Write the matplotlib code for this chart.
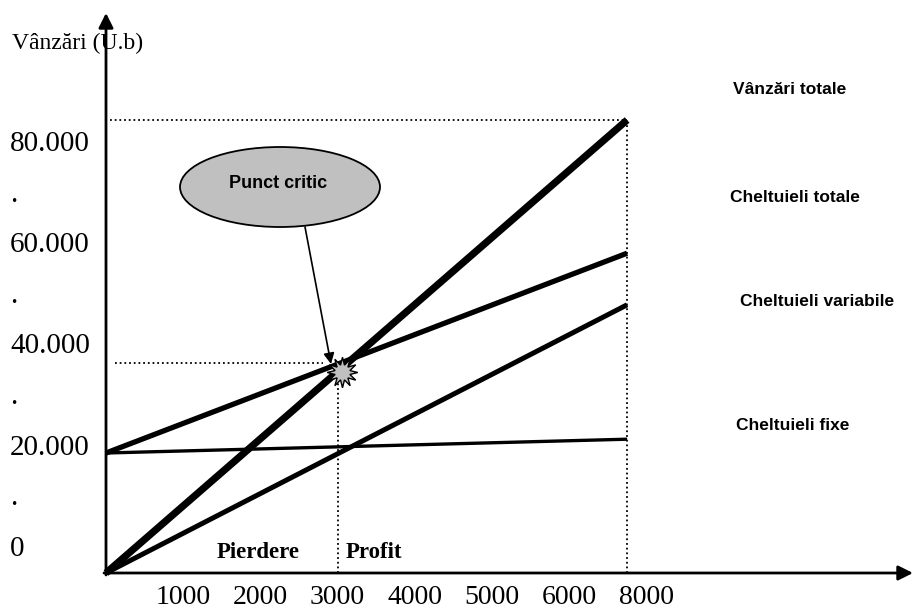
import matplotlib
matplotlib.use("Agg")
import matplotlib.pyplot as plt
from matplotlib import font_manager
from matplotlib.patches import Ellipse

# break-even chart (schematic values)
x_end = 6750
x_be = 3000
sales = [0, 75500]
total_costs = [20000, 53300]
variable_costs = [0, 44700]
fixed_costs = [20000, 22300]
be_value = 35000

x_ticks = [1000, 2000, 3000, 4000, 5000, 6000, 7000]
x_labels = ["1000", "2000", "3000", "4000", "5000", "6000", "8000"]
y_labels = ["80.000", ".", "60.000", ".", "40.000", ".", "20.000", ".", "0"]
line_names = ["Vânzări totale", "Cheltuieli totale", "Cheltuieli variabile", "Cheltuieli fixe"]

W, H = 914, 612
X0, Y0 = 106, 573      # origin in pixels
SX, SY = 0.0772, 0.006  # pixels per unit

names = {f.name for f in font_manager.fontManager.ttflist}
if "Liberation Sans Narrow" in names:
    sans, sans_size = "Liberation Sans Narrow", 14.5
else:
    sans, sans_size = "Liberation Sans", 12.5
serif = "Liberation Serif"


def px(x, y):
    # pixel position -> data units
    return (x - X0) / SX, (Y0 - y) / SY


fig = plt.figure(figsize=(W / 100, H / 100), dpi=100)
ax = fig.add_axes([0, 0, 1, 1])
ax.set_xlim(px(0, 0)[0], px(W, 0)[0])
ax.set_ylim(px(0, H)[1], px(0, 0)[1])
ax.axis("off")

# guides
dot = dict(color="black", lw=1.3, linestyle=(0, (1, 1.6)))
ax.plot([px(110, 0)[0], x_end], [sales[1], sales[1]], **dot)
ax.plot([x_end, x_end], [0, sales[1]], **dot)
ax.plot([px(115, 0)[0], px(323, 0)[0]], [be_value, be_value], **dot)
ax.plot([x_be, x_be], [0, px(0, 383)[1]], **dot)

# lines
ax.plot([0, x_end], fixed_costs, color="black", lw=2.4, solid_capstyle="butt")
ax.plot([0, x_end], variable_costs, color="black", lw=3.6, solid_capstyle="butt")
ax.plot([0, x_end], total_costs, color="black", lw=3.8, solid_capstyle="butt")
ax.plot([0, x_end], sales, color="black", lw=5.2, solid_capstyle="butt")

# axes with arrows
ax.annotate("", xy=px(913, 573), xytext=px(104, 573),
            arrowprops=dict(arrowstyle="-|>", lw=2, color="black", mutation_scale=22,
                            shrinkA=0, shrinkB=0))
ax.annotate("", xy=px(106, 13), xytext=px(106, 575),
            arrowprops=dict(arrowstyle="-|>", lw=2, color="black", mutation_scale=22,
                            shrinkA=0, shrinkB=0))

# break-even marker
bx, by = px(342, 372)
ax.plot(bx, by, marker=(12, 1, 0), markersize=22, mfc="#c0c0c0", mec="black", mew=1, zorder=5)

# callout
cx, cy = px(280, 187)
ax.add_patch(Ellipse((cx, cy), 200 / SX, 80 / SY, fc="#c0c0c0", ec="black", lw=1.3, zorder=4))
ax.text(*px(278, 183), "Punct critic", family=sans, weight="bold", fontsize=sans_size + 0.5,
        ha="center", va="center", zorder=6)
ax.annotate("", xy=px(331, 364), xytext=px(305, 227),
            arrowprops=dict(arrowstyle="-|>", lw=1.2, color="black", mutation_scale=16,
                            shrinkA=0, shrinkB=0), zorder=6)

# texts
ax.text(*px(12, 43), "Vânzări (U.b)", family=serif, fontsize=17, ha="left", va="center")
for i, lab in enumerate(y_labels):
    ax.text(*px(10, 151 + i * 50.6), lab, family=serif, fontsize=21, ha="left", va="baseline")
for xt, lab in zip(x_ticks, x_labels):
    ax.text(xt, px(0, 604)[1], lab, family=serif, fontsize=20, ha="center", va="baseline")

ax.text(*px(217, 553), "Pierdere", family=serif, weight="bold", fontsize=16.5, ha="left", va="center")
ax.text(*px(346, 553), "Profit", family=serif, weight="bold", fontsize=16.5, ha="left", va="center")

label_pos = [(733, 89), (730, 197), (740, 302), (736, 425)]
for name, (lx, ly) in zip(line_names, label_pos):
    ax.text(*px(lx, ly), name, family=sans, weight="bold", fontsize=sans_size, ha="left", va="center")

fig.savefig("out.png", dpi=100)
